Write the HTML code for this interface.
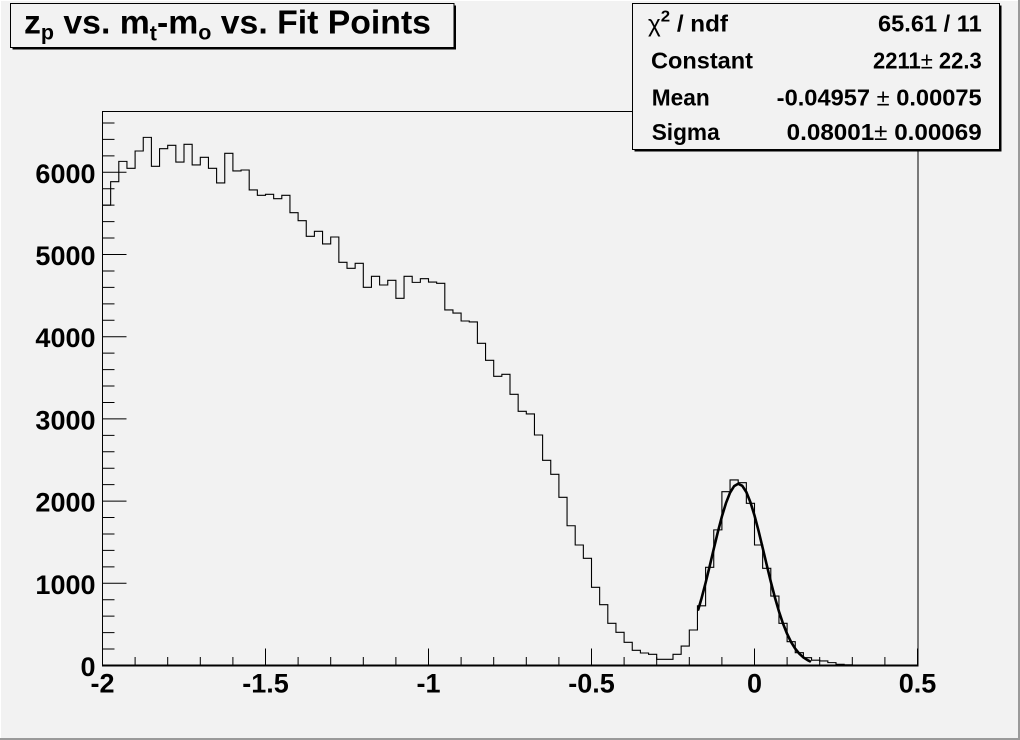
<!DOCTYPE html>
<html>
<head>
<meta charset="utf-8">
<style>
  html, body { margin: 0; padding: 0; background: #f2f2f2; }
  svg { display: block; }
  text { font-family: "Liberation Sans", Arial, sans-serif; fill: #000; }
</style>
</head>
<body>
<svg width="1020" height="740" viewBox="0 0 1020 740" xmlns="http://www.w3.org/2000/svg">
  <rect x="0" y="0" width="1020" height="740" fill="#f2f2f2"/>
  <!-- canvas border -->
  <rect x="0" y="738" width="1020" height="2" fill="#9a9a9a"/>
  <rect x="1018" y="0" width="2" height="740" fill="#9a9a9a"/>
  <rect x="0" y="0" width="1018" height="1" fill="#ffffff"/>
  <rect x="0" y="0" width="1" height="738" fill="#ffffff"/>

  <!-- frame -->
  <rect x="102.5" y="111.5" width="815.5" height="554" fill="none" stroke="#000" stroke-width="1"/>
  <!-- x axis line -->
  <line x1="102" y1="665.5" x2="918.5" y2="665.5" stroke="#000" stroke-width="2"/>
  <line x1="102.5" y1="111" x2="102.5" y2="666" stroke="#000" stroke-width="1"/>

  <!-- y ticks (data coords in y) -->
  <g transform="translate(0,665.5) scale(1,-0.0822)" fill="none" stroke="#000">
    <path vector-effect="non-scaling-stroke" stroke-width="1" d="
      M102.5 0h24 M102.5 1000h24 M102.5 2000h24 M102.5 3000h24 M102.5 4000h24 M102.5 5000h24 M102.5 6000h24
      M102.5 200h12 M102.5 400h12 M102.5 600h12 M102.5 800h12
      M102.5 1200h12 M102.5 1400h12 M102.5 1600h12 M102.5 1800h12
      M102.5 2200h12 M102.5 2400h12 M102.5 2600h12 M102.5 2800h12
      M102.5 3200h12 M102.5 3400h12 M102.5 3600h12 M102.5 3800h12
      M102.5 4200h12 M102.5 4400h12 M102.5 4600h12 M102.5 4800h12
      M102.5 5200h12 M102.5 5400h12 M102.5 5600h12 M102.5 5800h12
      M102.5 6200h12 M102.5 6400h12 M102.5 6600h12"/>
  </g>

  <!-- x ticks -->
  <path fill="none" stroke="#000" stroke-width="1" d="
    M102.5 648.5V665.5 M265.5 648.5V665.5 M428.5 648.5V665.5 M591.5 648.5V665.5 M754.5 648.5V665.5 M917.5 648.5V665.5
    M135.1 657V665.5 M167.7 657V665.5 M200.3 657V665.5 M232.9 657V665.5
    M298.1 657V665.5 M330.7 657V665.5 M363.3 657V665.5 M395.9 657V665.5
    M461.1 657V665.5 M493.7 657V665.5 M526.3 657V665.5 M558.9 657V665.5
    M624.1 657V665.5 M656.7 657V665.5 M689.3 657V665.5 M721.9 657V665.5
    M787.1 657V665.5 M819.7 657V665.5 M852.3 657V665.5 M884.9 657V665.5"/>

  <!-- histogram -->
  <g transform="translate(102.5,665.5) scale(8.15,-0.0822)" fill="none" stroke="#000">
    <path vector-effect="non-scaling-stroke" stroke-width="1.1" d="M0 5600 H1 V5886 H2 V6133 H3 V6048 H4 V6259 H5 V6425 H6 V6073 H7 V6287 H8 V6328 H9 V6125 H10 V6340 H11 V6089 H12 V6182 H13 V6048 H14 V5870 H15 V6231 H16 V6016 H17 V6028 H18 V5785 H19 V5720 H20 V5732 H21 V5679 H22 V5720 H23 V5509 H24 V5411 H25 V5221 H26 V5282 H27 V5128 H28 V5213 H29 V4905 H30 V4832 H31 V4893 H32 V4601 H33 V4735 H34 V4629 H35 V4686 H36 V4467 H37 V4735 H38 V4661 H39 V4706 H40 V4665 H41 V4649 H42 V4325 H43 V4288 H44 V4191 H45 V4179 H46 V3920 H47 V3713 H48 V3518 H49 V3543 H50 V3299 H51 V3092 H52 V3060 H53 V2804 H54 V2496 H55 V2326 H56 V2046 H57 V1700 H58 V1466 H59 V1304 H60 V951 H61 V740 H62 V513 H63 V404 H64 V282 H65 V185 H66 V152 H67 V136 H68 V75 H70 V136 H71 V237 H72 V432 H73 V726 H74 V1195 H75 V1650 H76 V2115 H77 V2257 H78 V2224 H79 V1973 H80 V1466 H81 V1182 H82 V845 H83 V513 H84 V290 H85 V156 H86 V95 H87 V65 H88 V55 H89 V35 H90 V15 H91 V8 H92 V4 H93 V0 H100"/>
    <!-- gaussian fit -->
    <polyline vector-effect="non-scaling-stroke" stroke-width="2.6" stroke-linejoin="round" stroke-linecap="round" points="73.1,680 73.5,816.5 74,1005.8 74.5,1208.8 75,1417.7 75.5,1622.9 76,1812.8 76.5,1976 77,2102.2 77.5,2182.2 78,2211 78.5,2186 79,2109.1 79.5,1985.9 80,1825 80.5,1636.6 81,1432 81.5,1223.1 82,1019.3 82.5,828.9 83,658 83.5,509.6 84,385.2 84.5,284.1 85,204.5 85.5,143.7 86,98.5 86.5,65.9 86.8,51.2"/>
  </g>

  <!-- y labels -->
  <g font-size="27" font-weight="bold" text-anchor="end">
    <text x="95.5" y="676">0</text>
    <text x="95.5" y="593.8">1000</text>
    <text x="95.5" y="511.6">2000</text>
    <text x="95.5" y="429.4">3000</text>
    <text x="95.5" y="347.2">4000</text>
    <text x="95.5" y="265">5000</text>
    <text x="95.5" y="182.8">6000</text>
  </g>
  <!-- x labels -->
  <g font-size="27" font-weight="bold" text-anchor="middle">
    <text x="102.5" y="692.5">-2</text>
    <text x="265.5" y="692.5">-1.5</text>
    <text x="428.5" y="692.5">-1</text>
    <text x="591.5" y="692.5">-0.5</text>
    <text x="754.5" y="692.5">0</text>
    <text x="917.5" y="692.5">0.5</text>
  </g>

  <!-- title box -->
  <rect x="12.5" y="5.5" width="443.5" height="44" fill="#000"/>
  <rect x="10.5" y="3.5" width="443.5" height="44" fill="#f2f2f2" stroke="#000" stroke-width="1"/>
  <text x="24" y="33.5" font-size="33" font-weight="bold" textLength="407" lengthAdjust="spacingAndGlyphs">z<tspan font-size="21" dy="6">p</tspan><tspan dy="-6"> vs. m</tspan><tspan font-size="21" dy="7">t</tspan><tspan dy="-7">-m</tspan><tspan font-size="21" dy="6">o</tspan><tspan dy="-6"> vs. Fit Points</tspan></text>

  <!-- stats box -->
  <rect x="634.5" y="5.5" width="367" height="146" fill="#000"/>
  <rect x="632.5" y="3.5" width="367" height="146" fill="#f2f2f2" stroke="#000" stroke-width="1"/>
  <g font-size="23" font-weight="bold">
    <text x="648" y="31.5" textLength="80" lengthAdjust="spacingAndGlyphs"><tspan font-weight="normal">χ</tspan><tspan font-size="16" dy="-10">2</tspan><tspan dy="10"> / ndf</tspan></text>
    <text x="878" y="31.5" textLength="103.7" lengthAdjust="spacingAndGlyphs">65.61 / 11</text>

    <text x="651" y="68.5" textLength="102" lengthAdjust="spacingAndGlyphs">Constant</text>
    <text x="873" y="68.5" textLength="108.7" lengthAdjust="spacingAndGlyphs">2211<tspan font-weight="normal">±</tspan> 22.3</text>

    <text x="651.7" y="105.5" textLength="58" lengthAdjust="spacingAndGlyphs">Mean</text>
    <text x="776.7" y="105.5" textLength="205" lengthAdjust="spacingAndGlyphs">-0.04957 <tspan font-weight="normal">±</tspan> 0.00075</text>

    <text x="651.7" y="140" textLength="68" lengthAdjust="spacingAndGlyphs">Sigma</text>
    <text x="786.7" y="140" textLength="195" lengthAdjust="spacingAndGlyphs">0.08001<tspan font-weight="normal">±</tspan> 0.00069</text>
  </g>
</svg>
</body>
</html>
